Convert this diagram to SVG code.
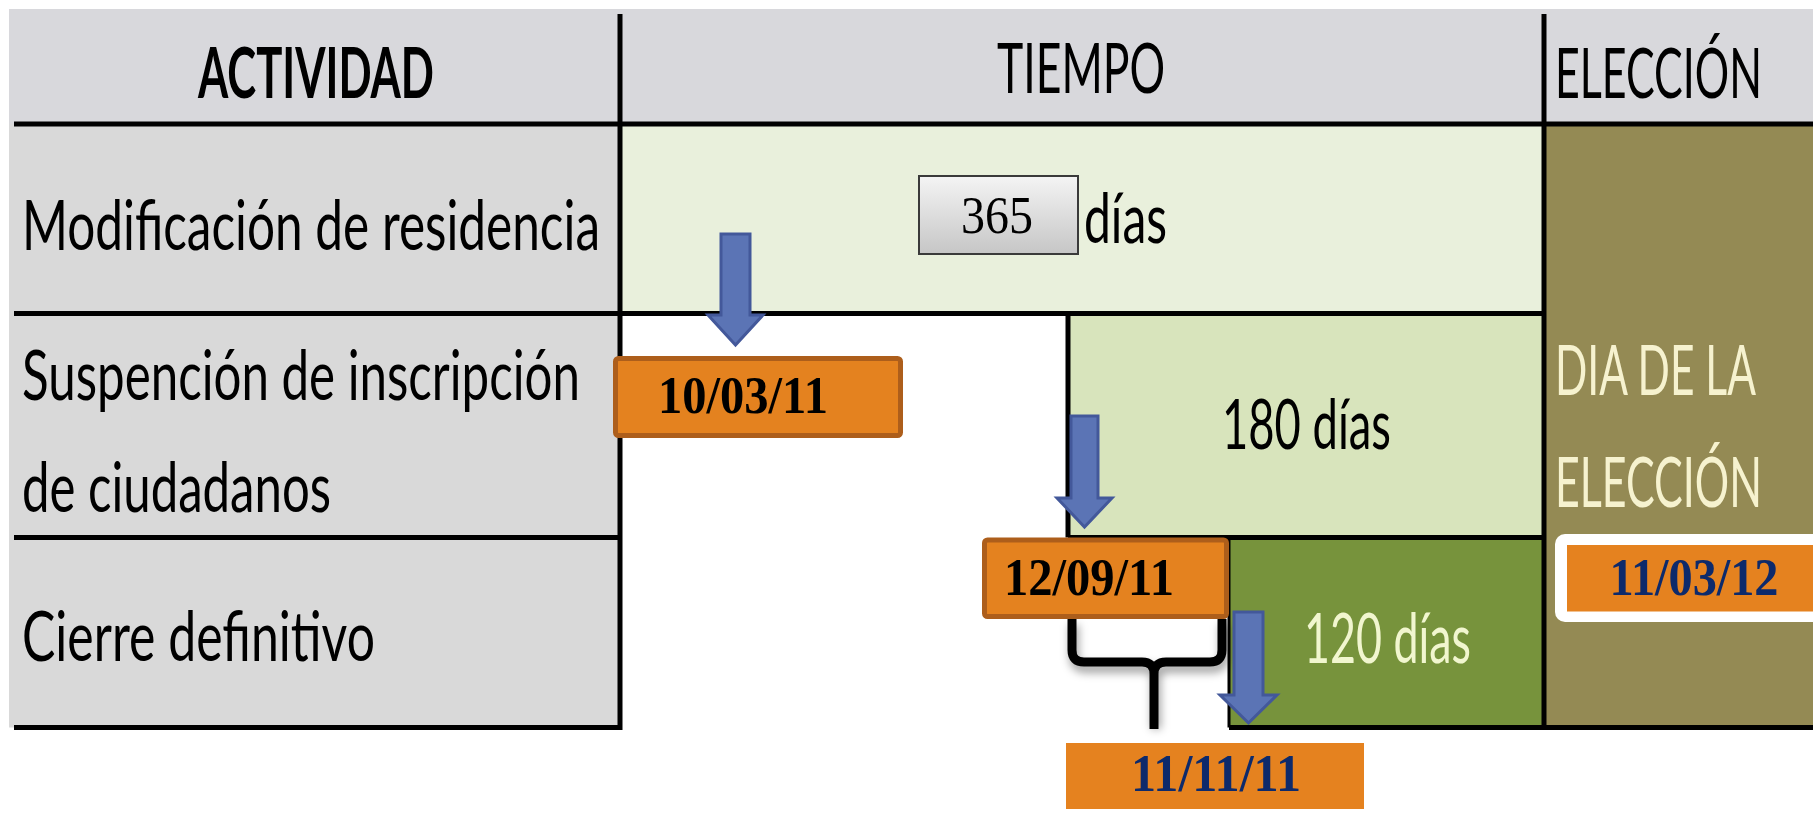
<svg xmlns="http://www.w3.org/2000/svg" width="1813" height="832" viewBox="0 0 1813 832">
<style>
.lbl{font-family:Lato,"Open Sans","Liberation Sans",sans-serif;fill:#000}
.hdr{font-size:70px}
.row{font-size:69px}
.date{font-family:"Liberation Serif","Times New Roman",serif;font-weight:bold;font-size:52px}
.line{stroke:#000;stroke-width:5;fill:none}
.arrow{fill:#5b74b5;stroke:#43589a;stroke-width:3;stroke-linejoin:miter}
.obox{fill:#e4821f;stroke:#ad5e1b;stroke-width:5}
</style>
<defs>
<linearGradient id="g365" x1="0" y1="0" x2="0" y2="1">
<stop offset="0" stop-color="#f4f4f4"/>
<stop offset="1" stop-color="#c6c6c6"/>
</linearGradient>
<filter id="blur" x="-20%" y="-20%" width="140%" height="140%">
<feGaussianBlur stdDeviation="4"/>
</filter>
</defs>
<rect width="1813" height="832" fill="#ffffff"/>
<g id="table">
<rect x="9" y="9" width="1804" height="115" fill="#d8d8dc"/>
<rect x="9" y="124" width="611" height="603.5" fill="#d9d9d9"/>
<rect x="620" y="124" width="924" height="189.5" fill="#e9f0dc"/>
<rect x="1068" y="313.5" width="476" height="224" fill="#d8e4bc"/>
<rect x="1229" y="537.5" width="315" height="190" fill="#77933c"/>
<rect x="1544" y="124" width="269" height="603.5" fill="#948a54"/>
</g>
<g id="grid">
<line class="line" x1="14" y1="124" x2="1813" y2="124"/>
<line class="line" x1="14" y1="313.5" x2="1546" y2="313.5"/>
<line class="line" x1="14" y1="537.5" x2="620" y2="537.5"/>
<line class="line" x1="1068" y1="537.5" x2="1546" y2="537.5"/>
<line class="line" x1="14" y1="727.5" x2="620" y2="727.5"/>
<line class="line" x1="1229" y1="727.5" x2="1813" y2="727.5"/>
<line class="line" x1="620" y1="14" x2="620" y2="730"/>
<line class="line" x1="1544" y1="14" x2="1544" y2="730"/>
<line class="line" x1="1068" y1="313.5" x2="1068" y2="537.5"/>
<line class="line" x1="1229" y1="537.5" x2="1229" y2="727.5" style="stroke-width:3"/>
</g>
<g id="headers">
<text class="lbl hdr" x="198" y="98" font-weight="bold" textLength="236" lengthAdjust="spacingAndGlyphs">ACTIVIDAD</text>
<text class="lbl hdr" x="997" y="93" textLength="168" lengthAdjust="spacingAndGlyphs">TIEMPO</text>
<text class="lbl hdr" x="1555" y="98" textLength="207" lengthAdjust="spacingAndGlyphs">ELECCIÓN</text>
</g>
<g id="activity-1">
<text class="lbl row" x="22" y="250" textLength="578" lengthAdjust="spacingAndGlyphs">Modificación de residencia</text>
</g>
<g id="activity-2">
<text class="lbl row" x="22" y="400" textLength="558" lengthAdjust="spacingAndGlyphs">Suspención de inscripción</text>
<text class="lbl row" x="22" y="512" textLength="309" lengthAdjust="spacingAndGlyphs">de ciudadanos</text>
</g>
<g id="activity-3">
<text class="lbl row" x="22" y="661" textLength="353" lengthAdjust="spacingAndGlyphs">Cierre definitivo</text>
</g>
<g id="time-365">
<rect x="919" y="176" width="159" height="78" fill="url(#g365)" stroke="#3a3a3a" stroke-width="2"/>
<text x="997" y="233" text-anchor="middle" font-family="Liberation Serif,serif" font-size="53" textLength="72" lengthAdjust="spacingAndGlyphs">365</text>
<text class="lbl row" x="1084" y="243" textLength="83" lengthAdjust="spacingAndGlyphs">días</text>
</g>
<g id="time-180">
<text class="lbl row" x="1222" y="449" textLength="169" lengthAdjust="spacingAndGlyphs">180 días</text>
</g>
<g id="time-120">
<text class="lbl row" x="1304" y="663" textLength="167" lengthAdjust="spacingAndGlyphs" style="fill:#f1f6cf">120 días</text>
</g>
<g id="eleccion-dia">
<text class="lbl row" x="1555" y="395" textLength="201" lengthAdjust="spacingAndGlyphs" style="fill:#f6f2cf">DIA DE LA</text>
<text class="lbl row" x="1555" y="507" textLength="207" lengthAdjust="spacingAndGlyphs" style="fill:#f6f2cf">ELECCIÓN</text>
</g>
<g id="date-100311">
<rect class="obox" x="615.5" y="358.5" width="285" height="77" rx="3"/>
<text class="date" x="743" y="413" text-anchor="middle" textLength="170" lengthAdjust="spacingAndGlyphs">10/03/11</text>
</g>
<g id="date-120911">
<rect class="obox" x="984.5" y="540" width="242" height="76.5" rx="3"/>
<text class="date" x="1089" y="595" text-anchor="middle" textLength="170" lengthAdjust="spacingAndGlyphs">12/09/11</text>
</g>
<g id="date-111111">
<rect x="1066" y="743" width="298" height="66" fill="#e5821f"/>
<text class="date" x="1216" y="791" text-anchor="middle" textLength="170" lengthAdjust="spacingAndGlyphs" style="fill:#0d2a6b">11/11/11</text>
</g>
<g id="date-110312">
<rect x="1555" y="534" width="280" height="88" rx="10" fill="#ffffff"/>
<rect x="1567" y="545" width="260" height="66.5" fill="#e5821f"/>
<text class="date" x="1694" y="595" text-anchor="middle" textLength="169" lengthAdjust="spacingAndGlyphs" style="fill:#0d2a6b">11/03/12</text>
</g>
<g id="connectors">
<path class="arrow" d="M721,234 H750 V315 H763 L735.5,345 L708,315 H721 Z"/>
<path class="arrow" d="M1071,416 H1098 V498 H1112 L1084.5,527 L1057,498 H1071 Z"/>
<path d="M1074,625 V656 Q1074,668 1086,668 H1144 Q1156,668 1156,680 V729 M1224,625 V656 Q1224,668 1212,668 H1168 Q1156,668 1156,680" fill="none" stroke="#000" stroke-opacity="0.35" stroke-width="10" filter="url(#blur)"/>
<path d="M1072,619 V650 Q1072,662 1084,662 H1142 Q1154,662 1154,674 V729 M1222,619 V650 Q1222,662 1210,662 H1166 Q1154,662 1154,674" fill="none" stroke="#000" stroke-width="9"/>
<path class="arrow" d="M1234,612 H1263 V695 H1277 L1248.5,723 L1220,695 H1234 Z"/>
</g>
</svg>
